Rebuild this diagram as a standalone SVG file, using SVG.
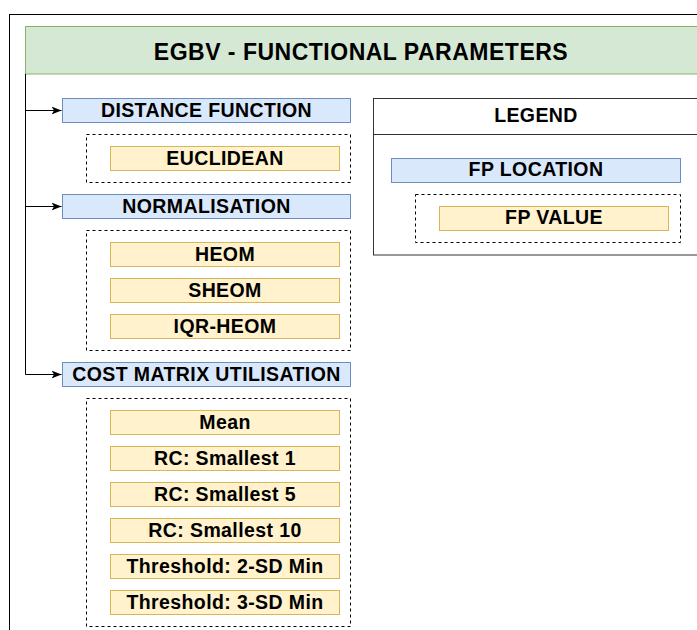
<svg xmlns="http://www.w3.org/2000/svg" width="697" height="630" viewBox="0 0 697 630">
<defs>
<style>
.t{font-family:"Liberation Sans",Arial,sans-serif;font-weight:bold;font-size:19.5px;letter-spacing:0.4px;fill:#000;text-anchor:middle}
.title{font-size:23px;letter-spacing:0.5px}
.loc{fill:#dae8fc;stroke:#6c8ebf;stroke-width:1}
.val{fill:#fff2cc;stroke:#d6b656;stroke-width:1}
.grp{fill:none;stroke:#000;stroke-width:1;stroke-dasharray:3 3}
.con{fill:none;stroke:#000;stroke-width:1}
</style>
<marker id="arr" viewBox="0 0 10 10" refX="10" refY="5" markerWidth="10" markerHeight="10" markerUnits="userSpaceOnUse" orient="auto">
<path d="M0,1 L10,5 L0,9 L2.5,5 Z" fill="#000"/>
</marker>
</defs>
<rect x="0" y="0" width="697" height="630" fill="#fff"/>
<g id="frame"><rect x="9.5" y="14.5" width="700" height="630" fill="#fff" stroke="#000" stroke-width="1"/></g>
<g id="header"><rect x="25.5" y="26.5" width="680" height="47.5" fill="#d5e8d4" stroke="#82b366"/><text class="t title" x="361" y="59.5">EGBV - FUNCTIONAL PARAMETERS</text></g>
<g id="connectors">
<path class="con" d="M25.5,74 V374.5"/>
<path class="con" d="M25.5,110.5 H61.5" marker-end="url(#arr)"/>
<path class="con" d="M25.5,206.5 H61.5" marker-end="url(#arr)"/>
<path class="con" d="M25.5,374.5 H61.5" marker-end="url(#arr)"/>
</g>
<g id="distance-function"><rect class="loc" x="62.5" y="98.5" width="288" height="24"/><text class="t" x="206.5" y="116.5">DISTANCE FUNCTION</text></g>
<g id="distance-values"><rect class="grp" x="86.5" y="134.5" width="264" height="48"/></g>
<g id="euclidean"><rect class="val" x="110.5" y="146.5" width="229" height="24"/><text class="t" x="225" y="164.8">EUCLIDEAN</text></g>
<g id="normalisation"><rect class="loc" x="62.5" y="194.5" width="288" height="24"/><text class="t" x="206.5" y="212.6">NORMALISATION</text></g>
<g id="normalisation-values"><rect class="grp" x="86.5" y="230.5" width="264" height="120"/></g>
<g id="heom"><rect class="val" x="110.5" y="242.5" width="229" height="24"/><text class="t" x="225" y="260.6">HEOM</text></g>
<g id="sheom"><rect class="val" x="110.5" y="278.5" width="229" height="24"/><text class="t" x="225" y="296.6">SHEOM</text></g>
<g id="iqr-heom"><rect class="val" x="110.5" y="314.5" width="229" height="24"/><text class="t" x="225" y="332.6">IQR-HEOM</text></g>
<g id="cost-matrix"><rect class="loc" x="62.5" y="362.5" width="288" height="24"/><text class="t" x="206.5" y="380.6">COST MATRIX UTILISATION</text></g>
<g id="cost-values"><rect class="grp" x="86.5" y="398.5" width="264" height="228"/></g>
<g id="mean"><rect class="val" x="110.5" y="410.5" width="229" height="24"/><text class="t" x="225" y="429">Mean</text></g>
<g id="rc1"><rect class="val" x="110.5" y="446.5" width="229" height="24"/><text class="t" x="225" y="465">RC: Smallest 1</text></g>
<g id="rc5"><rect class="val" x="110.5" y="482.5" width="229" height="24"/><text class="t" x="225" y="501">RC: Smallest 5</text></g>
<g id="rc10"><rect class="val" x="110.5" y="518.5" width="229" height="24"/><text class="t" x="225" y="537">RC: Smallest 10</text></g>
<g id="sd2"><rect class="val" x="110.5" y="554.5" width="229" height="24"/><text class="t" x="225" y="573">Threshold: 2-SD Min</text></g>
<g id="sd3"><rect class="val" x="110.5" y="590.5" width="229" height="24"/><text class="t" x="225" y="609">Threshold: 3-SD Min</text></g>
<g id="legend">
<rect x="373.5" y="98.5" width="330" height="156.5" fill="#fff" stroke="#333"/>
<path d="M373.5,134.5 H703.5" stroke="#333" fill="none"/>
<text class="t" x="536" y="121.6">LEGEND</text>
</g>
<g id="fp-location"><rect class="loc" x="391.5" y="158.5" width="289" height="24"/><text class="t" x="536" y="176">FP LOCATION</text></g>
<g id="fp-group"><rect class="grp" x="415.5" y="194.5" width="265" height="48"/></g>
<g id="fp-value"><rect class="val" x="439.5" y="206.5" width="229" height="24"/><text class="t" x="554" y="224">FP VALUE</text></g>
</svg>
